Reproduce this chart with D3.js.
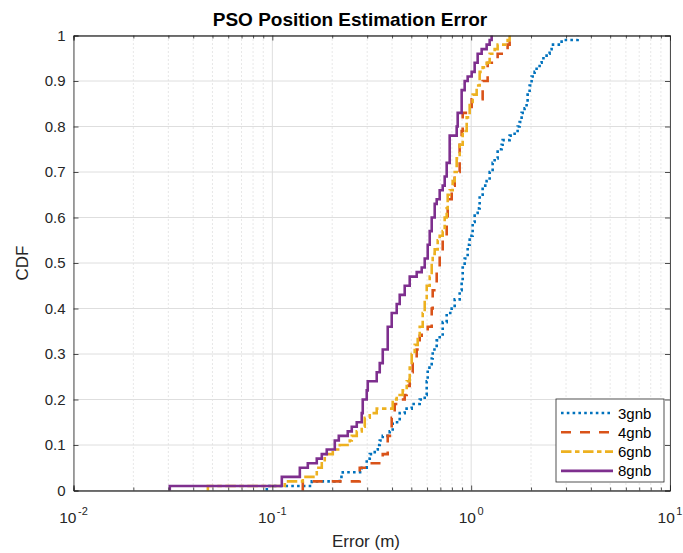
<!DOCTYPE html>
<html>
<head>
<meta charset="utf-8">
<script src="https://cdn.jsdelivr.net/npm/d3@7"></script>
<style>
  body { margin: 0; background: #fff; }
  text { font-family: 'Liberation Sans', Arial, Helvetica, sans-serif; fill: #262626; }
</style>
</head>
<body>
<div class="canvas"></div>
<script>
const seriesNames = ['3gnb', '4gnb', '6gnb', '8gnb']

const err3 = [0.0938, 0.0938, 0.1579, 0.2184, 0.2261, 0.2816, 0.2984, 0.3090, 0.3274, 0.3390, 0.3469, 0.3592, 0.3894, 0.4031, 0.4372, 0.4632, 0.5023, 0.5511, 0.5840, 0.5977, 0.6046, 0.6333, 0.6406, 0.6709, 0.6946, 0.7192, 0.7531, 0.7980, 0.8262, 0.8753, 0.8958, 0.9064, 0.9275, 0.9603, 0.9828, 1.0175, 1.0413, 1.0781, 1.1033, 1.1423, 1.1963, 1.2388, 1.2825, 1.3126, 1.3589, 1.4231, 1.4397, 1.5612, 1.6540, 1.7126, 1.7525, 1.7937, 1.8568, 1.9004, 1.9226, 1.9679, 2.0137, 2.0849, 2.1336, 2.2091, 2.2610, 2.3953, 2.4800, 2.5380, 2.8500, 3.4295]
const cdf3 = [0, 0.01, 0.02, 0.03, 0.04, 0.05, 0.07, 0.08, 0.09, 0.10, 0.11, 0.12, 0.13, 0.15, 0.17, 0.18, 0.19, 0.20, 0.21, 0.24, 0.27, 0.29, 0.31, 0.33, 0.34, 0.37, 0.39, 0.40, 0.42, 0.44, 0.46, 0.49, 0.51, 0.54, 0.56, 0.59, 0.61, 0.62, 0.65, 0.67, 0.68, 0.70, 0.72, 0.73, 0.75, 0.76, 0.77, 0.78, 0.79, 0.80, 0.81, 0.83, 0.84, 0.85, 0.87, 0.89, 0.91, 0.92, 0.93, 0.94, 0.95, 0.96, 0.97, 0.98, 0.99, 1.0]

const err4 = [0.1423, 0.1423, 0.2752, 0.3019, 0.3592, 0.3805, 0.3985, 0.4126, 0.4272, 0.4632, 0.4741, 0.4909, 0.5082, 0.5323, 0.5511, 0.5640, 0.6046, 0.6333, 0.6406, 0.6709, 0.6946, 0.7192, 0.7531, 0.7619, 0.7980, 0.8262, 0.8753, 0.8958, 0.9064, 1.0058, 1.1423, 1.2103, 1.3589, 1.5253, 1.5612, 1.5977]
const cdf4 = [0, 0.02, 0.05, 0.06, 0.08, 0.12, 0.16, 0.19, 0.20, 0.21, 0.23, 0.26, 0.29, 0.31, 0.34, 0.35, 0.36, 0.40, 0.44, 0.48, 0.52, 0.55, 0.60, 0.64, 0.67, 0.70, 0.76, 0.79, 0.83, 0.86, 0.90, 0.94, 0.96, 0.98, 0.99, 1.0]

const err6 = [0.0474, 0.0474, 0.1156, 0.1423, 0.1673, 0.1773, 0.1835, 0.2014, 0.2184, 0.2451, 0.2509, 0.2658, 0.2816, 0.2916, 0.3090, 0.3350, 0.4031, 0.4222, 0.4526, 0.4741, 0.4909, 0.5023, 0.5201, 0.5385, 0.5511, 0.5706, 0.5840, 0.5977, 0.6188, 0.6333, 0.6406, 0.6556, 0.6787, 0.6946, 0.7192, 0.7359, 0.7531, 0.7619, 0.7798, 0.8073, 0.8262, 0.8455, 0.8753, 0.9064, 0.9493, 0.9828, 1.0175, 1.0657, 1.1033, 1.1423, 1.1963, 1.2388, 1.3126, 1.3589, 1.5253, 1.5612]
const cdf6 = [0, 0.01, 0.02, 0.03, 0.05, 0.06, 0.08, 0.09, 0.10, 0.11, 0.12, 0.13, 0.14, 0.16, 0.17, 0.18, 0.20, 0.21, 0.22, 0.24, 0.27, 0.30, 0.32, 0.34, 0.36, 0.39, 0.42, 0.45, 0.47, 0.50, 0.52, 0.53, 0.55, 0.56, 0.57, 0.60, 0.62, 0.65, 0.66, 0.68, 0.70, 0.73, 0.76, 0.79, 0.82, 0.85, 0.87, 0.89, 0.92, 0.93, 0.94, 0.96, 0.97, 0.98, 0.99, 1.0]

const err8 = [0.0305, 0.0305, 0.1116, 0.1375, 0.1508, 0.1673, 0.1773, 0.1878, 0.2061, 0.2159, 0.2395, 0.2509, 0.2658, 0.2816, 0.2849, 0.2984, 0.3019, 0.3350, 0.3469, 0.3592, 0.3805, 0.3985, 0.4222, 0.4372, 0.4632, 0.4909, 0.5323, 0.5640, 0.5840, 0.6046, 0.6188, 0.6333, 0.6556, 0.6709, 0.6946, 0.7192, 0.7359, 0.7531, 0.7798, 0.8455, 0.8554, 0.8958, 0.9275, 0.9603, 1.0058, 1.0413, 1.0781, 1.1292, 1.1963, 1.2388, 1.2677]
const cdf8 = [0, 0.01, 0.03, 0.05, 0.06, 0.07, 0.08, 0.09, 0.11, 0.12, 0.13, 0.14, 0.15, 0.17, 0.20, 0.22, 0.24, 0.26, 0.28, 0.31, 0.36, 0.39, 0.41, 0.43, 0.45, 0.47, 0.48, 0.49, 0.51, 0.54, 0.57, 0.60, 0.63, 0.64, 0.66, 0.67, 0.69, 0.72, 0.78, 0.80, 0.83, 0.88, 0.90, 0.91, 0.92, 0.94, 0.96, 0.97, 0.98, 0.99, 1.0]

const xMajorTicks = [0.01, 0.1, 1, 10]
const xTickExps = ['-2', '-1', '0', '1']
const yTicks = [0, 0.1, 0.2, 0.3, 0.4, 0.5, 0.6, 0.7, 0.8, 0.9, 1]

const W = 683, H = 553
const margin = { top: 35.5, right: 13, bottom: 62.5, left: 73.5 }
const graphWidth = W - margin.left - margin.right
const graphHeight = H - margin.top - margin.bottom

const colors = ['#0072BD', '#D95319', '#EDB120', '#7E2F8E']
const dashes = ['2.6,3.2', '10,9', '10.5,3.5,4.5,3.5', null]
const axisCol = '#262626'

const svg = d3.select('.canvas').append('svg')
  .attr('width', W)
  .attr('height', H)

const graph = svg.append('g')
  .attr('transform', `translate(${margin.left}, ${margin.top})`)

const x = d3.scaleLog()
  .domain([0.01, 10])
  .range([0, graphWidth])

const y = d3.scaleLinear()
  .domain([0, 1])
  .range([graphHeight, 0])

const xMinor = []
xMajorTicks.slice(0, -1).forEach(d => {
  for (let k = 2; k <= 9; k++) xMinor.push(d * k)
})

// grid
graph.append('g').selectAll('line.minor')
  .data(xMinor)
  .enter().append('line')
  .attr('x1', d => x(d)).attr('x2', d => x(d))
  .attr('y1', 0).attr('y2', graphHeight)
  .attr('stroke', '#c4c4c4')
  .attr('stroke-width', 0.8)
  .attr('stroke-dasharray', '1,3')

graph.append('g').selectAll('line')
  .data(xMajorTicks)
  .enter().append('line')
  .attr('x1', d => x(d)).attr('x2', d => x(d))
  .attr('y1', 0).attr('y2', graphHeight)
  .attr('stroke', '#dedede')

graph.append('g').selectAll('line')
  .data(yTicks)
  .enter().append('line')
  .attr('x1', 0).attr('x2', graphWidth)
  .attr('y1', d => y(d)).attr('y2', d => y(d))
  .attr('stroke', '#dedede')

// series
graph.append('clipPath').attr('id', 'clip')
  .append('rect').attr('width', graphWidth).attr('height', graphHeight + 2).attr('y', -1)

const line = d3.line()
  .x(d => x(d[0]))
  .y(d => y(d[1]))
  .curve(d3.curveStepAfter)

const errs = [err3, err4, err6, err8]
const cdfs = [cdf3, cdf4, cdf6, cdf8]

errs.forEach((e, i) => {
  const pts = e.map((v, j) => [v, cdfs[i][j]])
  graph.append('path')
    .datum(pts)
    .attr('clip-path', 'url(#clip)')
    .attr('fill', 'none')
    .attr('stroke', colors[i])
    .attr('stroke-width', 2.6)
    .attr('stroke-dasharray', dashes[i])
    .attr('d', line)
})

// axes
const xAxis = d3.axisBottom(x).tickValues(xMajorTicks).tickSize(-5).tickFormat('')
const xAxisMinor = d3.axisBottom(x).tickValues(xMinor).tickSize(-3).tickFormat('')
const xAxisTop = d3.axisTop(x).tickValues(xMajorTicks).tickSize(-5).tickFormat('')
const xAxisTopMinor = d3.axisTop(x).tickValues(xMinor).tickSize(-3).tickFormat('')
const yAxis = d3.axisLeft(y).tickValues(yTicks).tickSize(-5).tickPadding(8).tickFormat(d3.format('~g'))
const yAxisRight = d3.axisRight(y).tickValues(yTicks).tickSize(-5).tickFormat('')

const axes = [
  [xAxis, `translate(0,${graphHeight})`],
  [xAxisMinor, `translate(0,${graphHeight})`],
  [xAxisTop, 'translate(0,0)'],
  [xAxisTopMinor, 'translate(0,0)'],
  [yAxis, 'translate(0,0)'],
  [yAxisRight, `translate(${graphWidth},0)`]
]
axes.forEach(([ax, tr]) => {
  const g = graph.append('g').attr('transform', tr).call(ax)
  g.select('.domain').attr('stroke', axisCol).attr('stroke-width', 0.8)
  g.selectAll('.tick line').attr('stroke', axisCol).attr('stroke-width', 0.8)
  g.selectAll('.tick text')
    .attr('fill', axisCol)
    .style('font-size', '15px')
    .style('font-family', "'Liberation Sans', Arial, sans-serif")
})

// x tick labels 10^n
const xLabels = graph.append('g').selectAll('text')
  .data(xMajorTicks)
  .enter().append('text')
  .attr('x', d => x(d))
  .attr('y', graphHeight + 32)
  .attr('text-anchor', 'middle')
  .style('font-size', '15.5px')
xLabels.append('tspan').text('10')
xLabels.append('tspan')
  .attr('dy', -8)
  .attr('dx', 1.5)
  .style('font-size', '11px')
  .text((d, i) => xTickExps[i])

// titles
svg.append('text')
  .attr('x', 350)
  .attr('y', 26)
  .attr('text-anchor', 'middle')
  .style('font-size', '19px')
  .style('font-weight', 'bold')
  .style('fill', '#000')
  .text('PSO Position Estimation Error')

svg.append('text')
  .attr('x', 366)
  .attr('y', 547)
  .attr('text-anchor', 'middle')
  .style('font-size', '17px')
  .text('Error (m)')

svg.append('text')
  .attr('transform', `translate(28, ${margin.top + graphHeight / 2}) rotate(-90)`)
  .attr('text-anchor', 'middle')
  .style('font-size', '17px')
  .text('CDF')

// legend
const legend = svg.append('g').attr('transform', 'translate(556, 399)')
legend.append('rect')
  .attr('width', 108)
  .attr('height', 83)
  .attr('fill', '#fff')
  .attr('stroke', axisCol)
  .attr('stroke-width', 0.8)

const items = legend.selectAll('g')
  .data(seriesNames)
  .enter().append('g')
  .attr('transform', (d, i) => `translate(0, ${14 + i * 19.3})`)

items.append('line')
  .attr('x1', 5).attr('x2', 57)
  .attr('stroke', (d, i) => colors[i])
  .attr('stroke-width', 2.6)
  .attr('stroke-dasharray', (d, i) => dashes[i])

items.append('text')
  .attr('x', 62)
  .attr('y', 5.5)
  .style('font-size', '15px')
  .style('fill', '#000')
  .text(d => d)
</script>
</body>
</html>
